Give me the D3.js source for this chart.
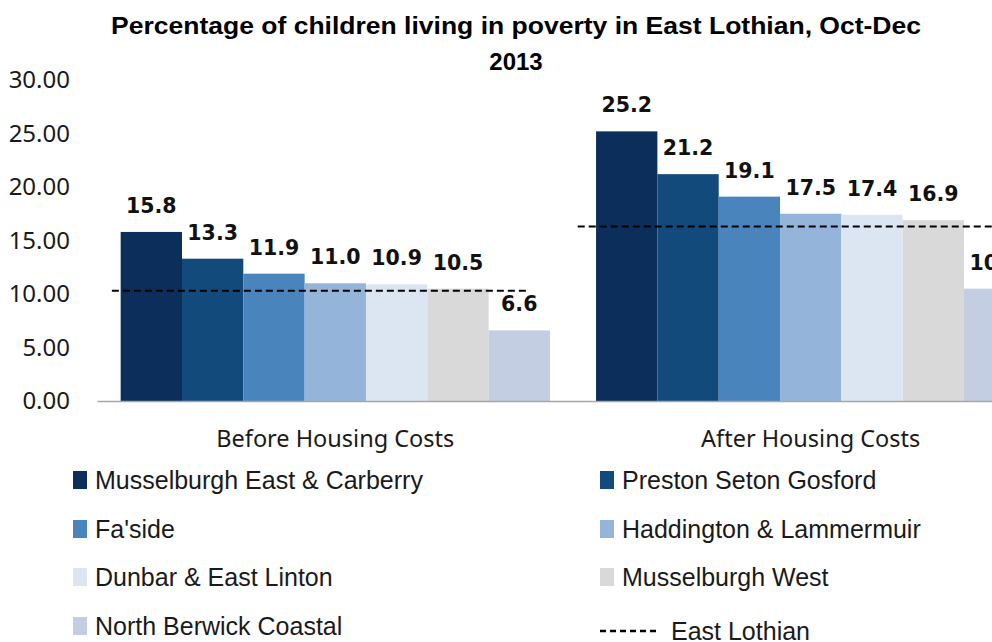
<!DOCTYPE html>
<html>
<head>
<meta charset="utf-8">
<script src="https://cdn.jsdelivr.net/npm/d3@7/dist/d3.min.js"></script>
<style>
  html, body { margin: 0; padding: 0; background: #fff; overflow: hidden; }
  svg { display: block; }
</style>
</head>
<body>
<svg id="chart" width="992" height="642"></svg>
<script>
// ---------- DATA ----------
const title = ["Percentage of children living in poverty in East Lothian, Oct-Dec", "2013"];
const categories = ["Before Housing Costs", "After Housing Costs"];
const seriesNames = [
  "Musselburgh East & Carberry",
  "Preston Seton Gosford",
  "Fa'side",
  "Haddington & Lammermuir",
  "Dunbar & East Linton",
  "Musselburgh West",
  "North Berwick Coastal"
];
const beforeHousingCosts = [15.8, 13.3, 11.9, 11.0, 10.9, 10.5, 6.6];
const afterHousingCosts  = [25.2, 21.2, 19.1, 17.5, 17.4, 16.9, 10.5];
const eastLothianName = "East Lothian";
const eastLothian = [10.3, 16.3];          // reference line per category
const eastLothianSpan = [[0.03, 0.905], [1.01, 2.0]]; // extent in category units
const seriesColors = ["#0b2e5a", "#124a7c", "#4a84bd", "#94b5d9", "#dbe6f2", "#d9d9d9", "#c3cee3"];
const yTicks = [0, 5, 10, 15, 20, 25, 30];

// ---------- SETUP ----------
const svg = d3.select("#chart");
const values = [beforeHousingCosts, afterHousingCosts];

const plotLeft = 97.6, plotRight = 1048.4, plotTop = 80, plotBottom = 401;

const x0 = d3.scaleBand().domain(categories).range([plotLeft, plotRight]).paddingInner(0).paddingOuter(0);
const x1 = d3.scaleBand().domain(seriesNames).range([0, x0.bandwidth()]).paddingInner(0).paddingOuter(0.376);
const xc = d3.scaleLinear().domain([0, 2]).range([plotLeft, plotRight]);
const y = d3.scaleLinear().domain([0, 30]).range([plotBottom, plotTop]);

// ---------- TITLE ----------
svg.append("text")
  .attr("x", 516).attr("y", 34)
  .attr("text-anchor", "middle")
  .attr("font-family", "Liberation Sans, Arial, sans-serif")
  .attr("font-weight", "bold")
  .attr("font-size", 24)
  .attr("textLength", 810).attr("lengthAdjust", "spacingAndGlyphs")
  .attr("fill", "#000")
  .text(title[0]);
svg.append("text")
  .attr("x", 516).attr("y", 70)
  .attr("text-anchor", "middle")
  .attr("font-family", "Liberation Sans, Arial, sans-serif")
  .attr("font-weight", "bold")
  .attr("font-size", 24)
  .attr("fill", "#000")
  .text(title[1]);

// ---------- Y AXIS ----------
const yAxis = d3.axisLeft(y).tickValues(yTicks).tickFormat(d3.format(".2f")).tickSize(0).tickPadding(0);
const yg = svg.append("g").attr("transform", "translate(70,0)").call(yAxis);
yg.select(".domain").remove();
yg.selectAll("text")
  .attr("font-family", "Noto Sans, sans-serif")
  .attr("font-size", 24)
  .attr("fill", "#1a1a1a");

// ---------- BARS ----------
const groups = svg.append("g").selectAll("g")
  .data(categories)
  .join("g")
  .attr("transform", d => `translate(${x0(d)},0)`);

groups.each(function(cat, ci) {
  const g = d3.select(this);
  const rows = seriesNames.map((s, si) => ({ s, si, v: values[ci][si] }));
  g.selectAll("rect")
    .data(rows)
    .join("rect")
    .attr("x", d => x1(d.s))
    .attr("y", d => y(d.v))
    .attr("width", x1.bandwidth())
    .attr("height", d => y(0) - y(d.v))
    .attr("fill", d => seriesColors[d.si]);
  g.selectAll("text.lbl")
    .data(rows)
    .join("text")
    .attr("class", "lbl")
    .attr("x", d => x1(d.s) + x1.bandwidth() / 2)
    .attr("y", d => y(d.v) - 19)
    .attr("text-anchor", "middle")
    .attr("font-family", "DejaVu Sans, sans-serif")
    .attr("font-weight", "bold")
    .attr("font-size", 20.5)
    .attr("fill", "#111")
    .text(d => d.v.toFixed(1));
});

// ---------- X AXIS ----------
svg.append("line")
  .attr("x1", plotLeft).attr("x2", plotRight)
  .attr("y1", plotBottom + 0.5).attr("y2", plotBottom + 0.5)
  .attr("stroke", "#a6a6a6").attr("stroke-width", 1.5);

svg.append("g").selectAll("text")
  .data(categories)
  .join("text")
  .attr("x", d => x0(d) + x0.bandwidth() / 2)
  .attr("y", 447)
  .attr("text-anchor", "middle")
  .attr("font-family", "Noto Sans, sans-serif")
  .attr("font-size", 23.5)
  .attr("fill", "#1a1a1a")
  .text(d => d);

// ---------- EAST LOTHIAN LINE ----------
svg.append("g").selectAll("line")
  .data(eastLothian)
  .join("line")
  .attr("x1", (d, i) => xc(eastLothianSpan[i][0]))
  .attr("x2", (d, i) => xc(eastLothianSpan[i][1]))
  .attr("y1", d => y(d)).attr("y2", d => y(d))
  .attr("stroke", "#000").attr("stroke-width", 2)
  .attr("stroke-dasharray", "7,4");

// ---------- LEGEND ----------
const legendItems = seriesNames.map((s, i) => ({ name: s, color: seriesColors[i], type: "rect" }))
  .concat([{ name: eastLothianName, type: "line" }]);
const colX = [73, 600], rowY = [480, 529, 577, 626];
const leg = svg.append("g");
legendItems.forEach((d, i) => {
  const cx = colX[i % 2], cy = rowY[Math.floor(i / 2)];
  if (d.type === "rect") {
    leg.append("rect").attr("x", cx).attr("y", cy - 9).attr("width", 14).attr("height", 18).attr("fill", d.color);
    leg.append("text").attr("x", cx + 22).attr("y", cy)
      .attr("dominant-baseline", "central")
      .attr("font-family", "Liberation Sans, Arial, sans-serif")
      .attr("font-size", 25).attr("fill", "#1a1a1a").text(d.name);
  } else {
    leg.append("line").attr("x1", cx).attr("x2", cx + 58).attr("y1", cy + 5).attr("y2", cy + 5)
      .attr("stroke", "#000").attr("stroke-width", 2.5).attr("stroke-dasharray", "6,4");
    leg.append("text").attr("x", cx + 71).attr("y", cy + 5)
      .attr("dominant-baseline", "central")
      .attr("font-family", "Liberation Sans, Arial, sans-serif")
      .attr("font-size", 25).attr("fill", "#1a1a1a").text(d.name);
  }
});
</script>
</body>
</html>
